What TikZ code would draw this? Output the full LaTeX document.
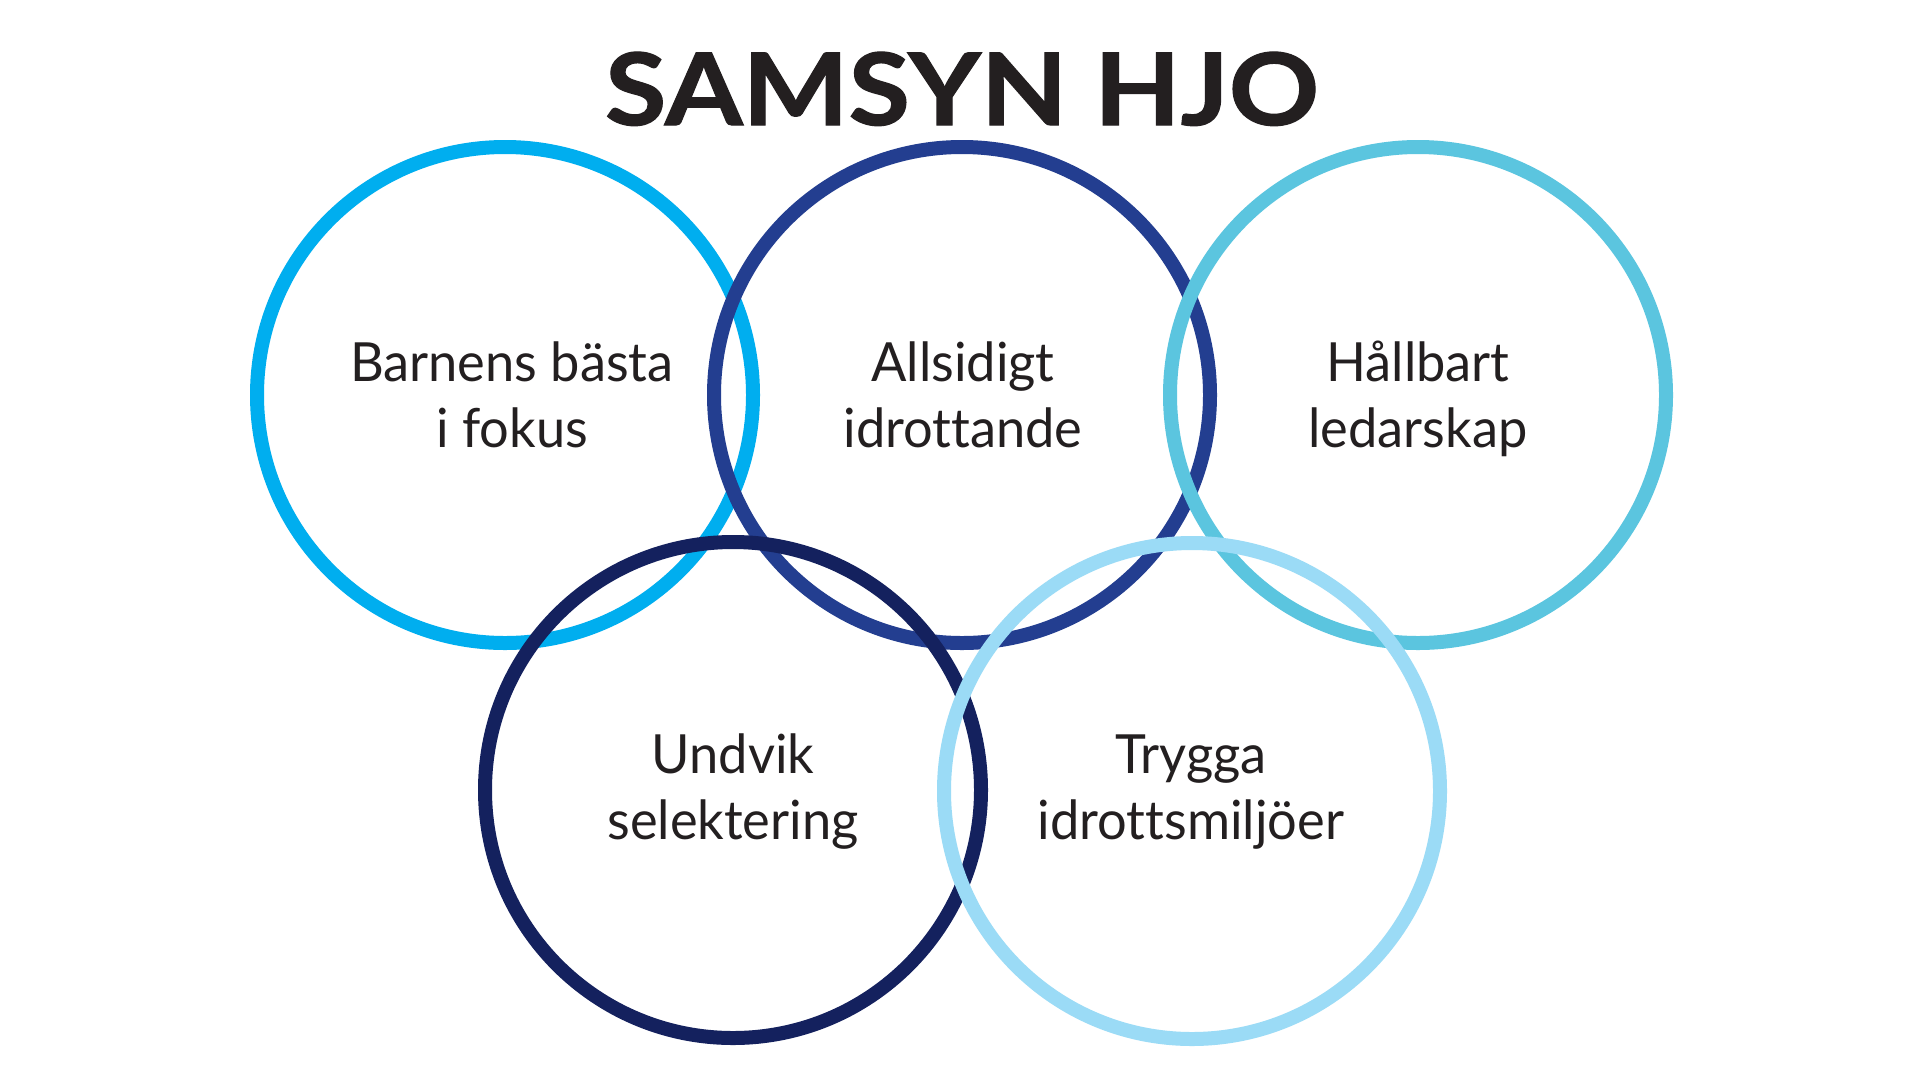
\documentclass[tikz,border=0pt]{standalone}
\usepackage{fontspec}
\setmainfont{Lato}[Ligatures=NoCommon]
\newfontfamily\lblfont{Lato}[Ligatures=NoCommon,FakeStretch=0.97]
\newfontfamily\ttlfont{Lato}[FakeStretch=1.12,FakeBold=1.2]
\definecolor{cA}{HTML}{00AEEF}
\definecolor{cB}{HTML}{233E90}
\definecolor{cC}{HTML}{5BC5DF}
\definecolor{cD}{HTML}{14215E}
\definecolor{cE}{HTML}{9BDBF6}
\definecolor{ink}{HTML}{231F20}
\newcommand{\twolines}[2]{\setlength{\tabcolsep}{0pt}\begin{tabular}[t]{c}#1\\#2\end{tabular}}
\begin{document}
\begin{tikzpicture}[x=1pt,y=-1pt,
  ring/.style={draw=#1, line width=14pt, circle, minimum size=496pt, inner sep=0pt},
  lbl/.style={anchor=base, inner sep=0pt, text=ink, font=\lblfont\fontsize{54}{66}\selectfont},
  ttl/.style={anchor=base, text=ink, font=\ttlfont\bfseries\fontsize{100}{110}\selectfont}]
\useasboundingbox (0,0) rectangle (1920,1080);
\fill[white] (0,0) rectangle (1920,1080);
\node[ttl] (title) at (962,125) {SAMSYN HJO};
\node[ring=cA] (r1) at (505,395) {};
\node[ring=cB] (r2) at (962,395) {};
\node[ring=cC] (r3) at (1418,395) {};
\node[ring=cD] (r4) at (733,790) {};
\node[ring=cE] (r5) at (1192,791) {};
\node[lbl] (t1) at (512,381) {\twolines{Barnens bästa}{i fokus}};
\node[lbl] (t2) at (963,381) {\twolines{Allsidigt}{idrottande}};
\node[lbl] (t3) at (1418,381) {\twolines{Hållbart}{ledarskap}};
\node[lbl] (t4) at (733,773) {\twolines{Undvik}{selektering}};
\node[lbl] (t5) at (1191,773) {\twolines{Trygga}{idrottsmiljöer}};
\end{tikzpicture}
\end{document}
